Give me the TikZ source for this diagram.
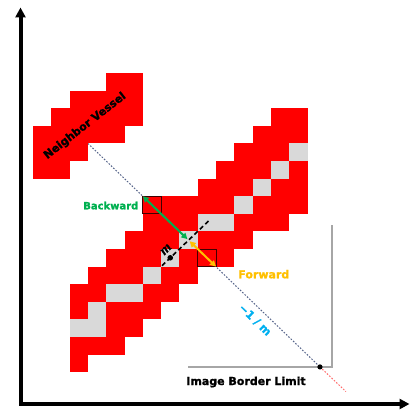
\documentclass[tikz,border=0pt]{standalone}
\usepackage{fontspec}
\setmainfont{DejaVu Sans}
\newfontfamily\heavyfont[FakeBold=1.2]{DejaVu Sans Bold}
\newfontfamily\mserif[FakeBold=0.6]{Liberation Serif Bold Italic}
\usetikzlibrary{arrows.meta}
\definecolor{vred}{HTML}{FF0000}
\definecolor{vgrey}{HTML}{D9D9D9}
\definecolor{bgreen}{HTML}{00B050}
\definecolor{forange}{HTML}{FFC000}
\definecolor{mblue}{HTML}{00B0F0}
\definecolor{dotblue}{HTML}{56648A}
\definecolor{borderg}{HTML}{A6A6A6}
\definecolor{extred}{HTML}{FF6B6B}
\newcommand\vesselrow[3]{\fill[vred] (#2,#1) rectangle (#3+1,#1+1);}
\newcommand\greycell[2]{\fill[vgrey] (#1,#2) rectangle ++(1,1);}
\tikzset{
  axisline/.style={line width=4pt, {Triangle[length=10pt,width=10pt]}-{Triangle[length=10pt,width=10pt]}, miter limit=10},
  dirarrow/.style={line width=2pt, {Triangle[length=6pt,width=6pt]}-{Triangle[length=6pt,width=6pt]}},
  guideline/.style={line width=1pt, dash pattern=on 1.6pt off 1.6pt},
  boxline/.style={line width=0.7pt, draw=black!75!red},
  lbl/.style={font=\heavyfont\fontsize{10}{12}\selectfont, inner sep=0pt},
  lblbig/.style={font=\heavyfont\fontsize{11}{13}\selectfont, inner sep=0pt}
}
\begin{document}
\begin{tikzpicture}[x=1pt,y=-1pt]
\useasboundingbox (0,0) rectangle (412,419);
\fill[white] (0,0) rectangle (412,419);

% axes
\coordinate (ytip) at (20.5,7.5);
\coordinate (origin) at (20.5,404);
\coordinate (xtip) at (409.5,404);
\draw[axisline] (ytip) -- (origin) -- (xtip);

% image border limit
\coordinate (blA) at (188,367);
\coordinate (blC) at (332,367);
\coordinate (blB) at (332,225);
\draw[borderg, line width=1.5pt] (blA) -- (blC) -- (blB);
\node[lblbig, anchor=base] (ibl) at (246,385) {Image Border Limit};

\begin{scope}[shift={(33,73)}, x=18.3pt, y=-17.6pt]
  \coordinate (nvc) at (3,4);
  \coordinate (bwc) at (6,7);
  \coordinate (gcA) at (8.44,9.44);
  \coordinate (gcB) at (8.56,9.56);
  \coordinate (fwc) at (10,11);
  \coordinate (mdot) at (7.5,10.5);
  \coordinate (mA) at (7.05,10.95);
  \coordinate (mB) at (9.65,8.35);
  \coordinate (bdot) at (15.68,16.7);
  \coordinate (rext) at (17.1,18.1);

  % guide line (behind the vessels)
  \draw[guideline, dotblue] (nvc) -- (bdot);
  \draw[guideline, extred] (bdot) -- (rext);

  % neighbor vessel
  \vesselrow{0}{4}{5}
  \vesselrow{1}{2}{5}
  \vesselrow{2}{1}{5}
  \vesselrow{3}{0}{4}
  \vesselrow{4}{0}{2}
  \vesselrow{5}{0}{1}

  % main vessel
  \vesselrow{2}{13}{14}
  \vesselrow{3}{12}{14}
  \vesselrow{4}{11}{14}
  \vesselrow{5}{10}{14}
  \vesselrow{6}{9}{14}
  \vesselrow{7}{6}{14}
  \vesselrow{8}{6}{13}
  \vesselrow{9}{5}{11}
  \vesselrow{10}{4}{10}
  \vesselrow{11}{3}{8}
  \vesselrow{12}{2}{7}
  \vesselrow{13}{2}{6}
  \vesselrow{14}{2}{5}
  \vesselrow{15}{2}{4}
  \vesselrow{16}{2}{2}

  \greycell{14}{4}
  \greycell{13}{5}
  \greycell{12}{6}
  \greycell{11}{7}
  \greycell{9}{8}
  \greycell{10}{8}
  \greycell{8}{9}
  \greycell{7}{10}
  \greycell{6}{11}
  \greycell{4}{12}
  \greycell{5}{12}
  \greycell{3}{13}
  \greycell{2}{14}
  \greycell{3}{14}

  % boxes
  \draw[boxline] (6,7) rectangle (7,8);
  \draw[boxline] (9,10) rectangle (10,11);

  % perpendicular m line
  \draw[black, line width=1.6pt, dash pattern=on 4.5pt off 3pt] (mA) -- (mB);
  \fill[black] (mdot) circle (2.8pt);
  \fill[black] (bdot) circle (2.6pt);

  % arrows
  \draw[dirarrow, bgreen] (bwc) -- (gcA);
  \draw[dirarrow, forange] (gcB) -- (fwc);
\end{scope}

% labels
\node[lblbig, rotate=38] (nv) at (85,126) {Neighbor Vessel};
\node[lbl, text=bgreen, anchor=base] (bw) at (110.8,209.3) {Backward};
\node[lblbig, text=forange, anchor=base] (fw) at (263.8,278.3) {Forward};
\node[lblbig, text=mblue, rotate=-44] (slope) at (255,320) {−1 / m};
\node[inner sep=0pt, rotate=45, font=\mserif\fontsize{14}{16}\selectfont] (mlbl) at (166,249.5) {m};
\end{tikzpicture}
\end{document}
